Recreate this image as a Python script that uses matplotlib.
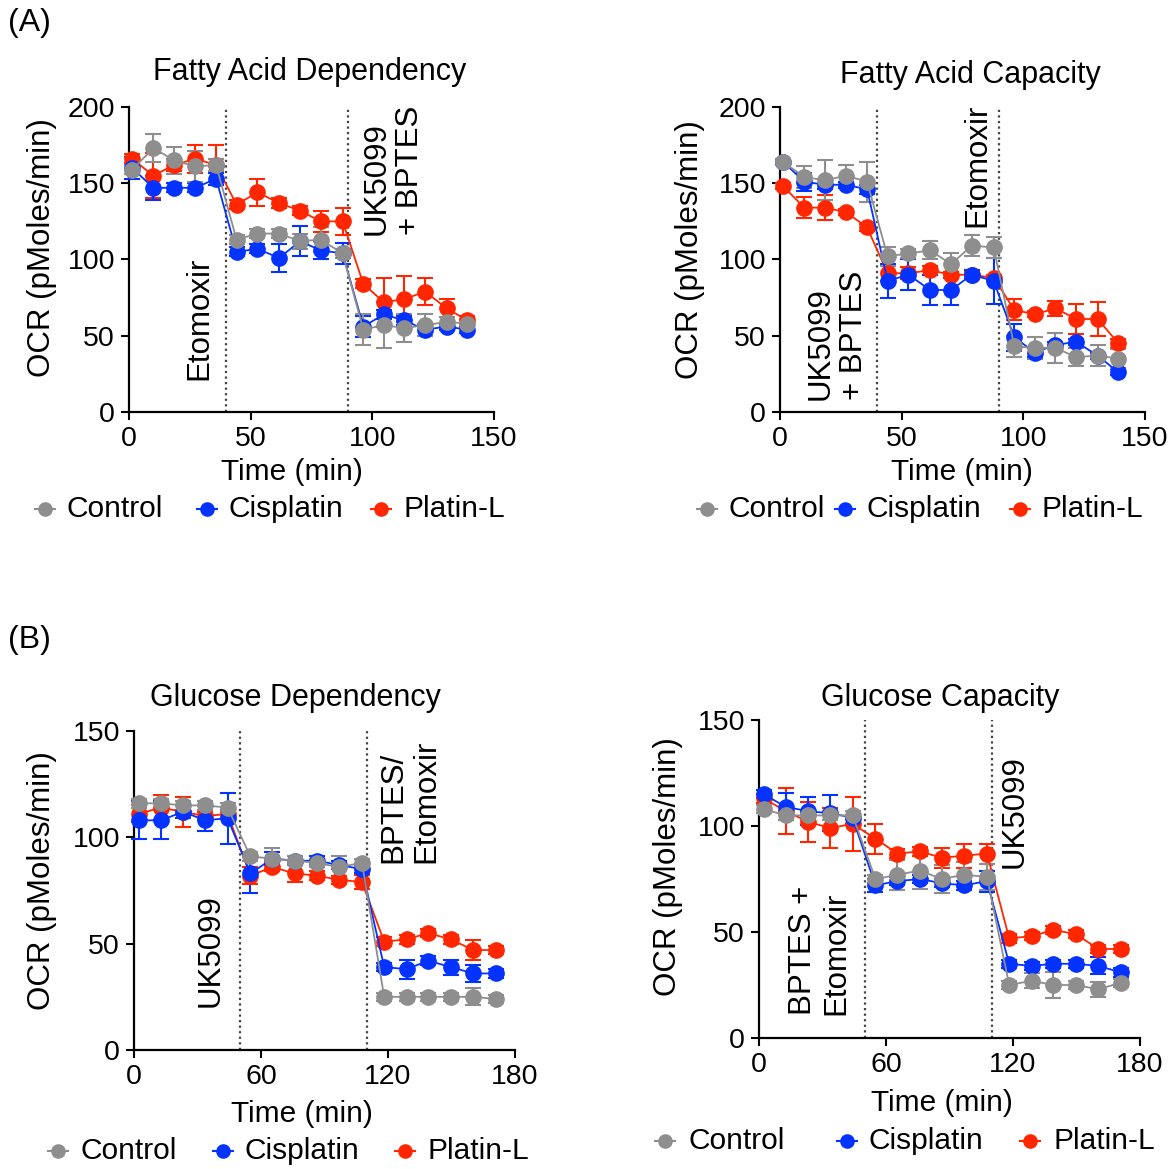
import matplotlib
matplotlib.use("Agg")
import matplotlib.pyplot as plt
from matplotlib.lines import Line2D

plt.rcParams['font.family'] = ['Liberation Sans', 'DejaVu Sans']

W, H = 1176, 1169

# ---------------- data ----------------
time_fa = [1.3, 10, 18.6, 27.2, 35.8, 44.2, 52.8, 61.7, 70.3, 78.8, 87.8,
           96.3, 104.7, 113.2, 121.7, 130.5, 139.1]
time_glc = [2.2, 12.7, 23.2, 33.6, 44.2, 55, 65.4, 76, 86.4, 96.9, 107.7,
            118.2, 128.8, 139, 149.7, 160.3, 170.8]

series_names = ["Control", "Cisplatin", "Platin-L"]

# (A) Fatty Acid Dependency
fad_control = [159, 173, 165, 161, 162, 113, 117, 117, 112, 113, 104, 54, 57, 55, 57, 59, 58]
fad_control_err = [3, 9, 9, 10, 4, 3, 3, 3, 5, 8, 3, 10, 15, 9, 7, 3, 3]
fad_cis = [160, 147, 147, 147, 153, 105, 107, 101, 112, 106, 104, 56, 64, 60, 54, 56, 54]
fad_cis_err = [7, 8, 3, 3, 4, 3, 3, 9, 10, 6, 7, 7, 3, 3, 4, 2, 2]
fad_plat = [166, 155, 162, 166, 162, 136, 144, 137, 132, 125, 125, 84, 72, 74, 79, 68, 60]
fad_plat_err = [3, 15, 4, 9, 13, 3, 9, 3, 3, 7, 9, 3, 16, 15, 9, 6, 3]

# (A) Fatty Acid Capacity
fac_control = [164, 154, 152, 155, 151, 102, 104, 106, 97, 109, 108, 43, 42, 42, 36, 37, 35]
fac_control_err = [2, 7, 13, 7, 13, 6, 3, 6, 7, 7, 7, 7, 7, 10, 6, 7, 6]
fac_cis = [164, 151, 149, 149, 146, 86, 90, 80, 80, 90, 86, 49, 39, 44, 46, 37, 26]
fac_cis_err = [2, 6, 3, 2, 3, 11, 10, 10, 10, 3, 15, 9, 3, 2, 2, 2, 2]
fac_plat = [148, 134, 134, 131, 121, 91, 91, 93, 90, 90, 88, 67, 64, 68, 61, 61, 45]
fac_plat_err = [2, 7, 8, 2, 2, 5, 4, 3, 2, 2, 2, 7, 2, 5, 10, 11, 3]

# (B) Glucose Dependency
gd_control = [116, 116, 115, 115, 114, 91, 90, 89, 88, 86, 88, 25, 25, 25, 25, 25, 24]
gd_control_err = [2, 2, 2, 2, 2, 2, 5, 2, 2, 5, 2, 2, 2, 2, 2, 4, 2]
gd_cis = [108, 108, 112, 108, 109, 83, 90, 89, 89, 87, 85, 39, 38, 42, 39, 36, 36]
gd_cis_err = [9, 9, 3, 5, 12, 9, 3, 2, 2, 2, 2, 2, 4.5, 2, 3.5, 4, 2]
gd_plat = [111, 114, 112, 110, 111, 82, 86, 83, 82, 80, 79, 51, 52, 55, 52, 47, 47]
gd_plat_err = [4, 6, 7, 2, 2, 4, 2, 4, 2, 2, 3.5, 2, 2, 2, 2, 4.5, 2]

# (B) Glucose Capacity
gc_control = [108, 105, 105, 105, 105, 75, 77, 79, 75, 77, 76, 25, 27, 25, 25, 23, 26]
gc_control_err = [2, 2, 2, 2, 2, 2, 7, 8.6, 6.7, 6, 6.3, 2, 3.5, 6.3, 2, 3.5, 2]
gc_cis = [115, 109, 107, 106, 104, 72, 74, 75, 73, 72, 74, 35, 34, 35, 35, 34, 31]
gc_cis_err = [2, 6.4, 6.5, 8.5, 3, 3, 2, 2, 2, 2, 5, 2, 2, 2, 2, 4, 2]
gc_plat = [113, 107, 102, 99, 101, 94, 87, 88, 85, 86, 87, 47, 48, 51, 49, 42, 42]
gc_plat_err = [2, 11, 9.4, 9.4, 12.6, 7, 2, 2, 4.6, 5.7, 4.7, 2, 2, 2, 2, 2, 2]

fa_injections = [40, 90]
glc_injections = [50, 110]

fa_xticks = [0, 50, 100, 150]
fa_yticks = [0, 50, 100, 150, 200]
glc_xticks = [0, 60, 120, 180]
glc_yticks = [0, 50, 100, 150]

C_GRAY = "#8e8e8e"
C_BLUE = "#0433ff"
C_RED = "#ff2600"

FS_TICK = 20.5
FS_LAB = 21.5
FS_TITLE = 22
FS_ROT = 22.5
FS_PANEL = 23

fig = plt.figure(figsize=(W / 100, H / 100), dpi=100)


def px_axes(x0, x1, y_top, y_bot):
    return fig.add_axes([x0 / W, 1 - y_bot / H, (x1 - x0) / W, (y_bot - y_top) / H])


def ftext(x, y, s, **kw):
    fig.text(x / W, 1 - y / H, s, **kw)


def panel(ax, t, data, inj, xlim, ylim, xticks, yticks, annots):
    for (vals, errs, col) in data:
        ax.errorbar(t, vals, yerr=errs, color=col, marker='o', markersize=11,
                    linewidth=1.3, elinewidth=1.5, capsize=6, capthick=1.5,
                    clip_on=False, zorder=3)
    for xi in inj:
        ax.axvline(xi, color="#444444", linestyle=(0, (1, 1.5)), linewidth=1.6, zorder=1)
    ax.set_xlim(*xlim)
    ax.set_ylim(*ylim)
    ax.set_xticks(xticks)
    ax.set_yticks(yticks)
    ax.tick_params(labelsize=FS_TICK, length=6, width=1.5, pad=4, direction='out')
    for s in ['top', 'right']:
        ax.spines[s].set_visible(False)
    for s in ['left', 'bottom']:
        ax.spines[s].set_linewidth(1.6)
    for (x, y, s) in annots:
        ax.text(x, y, s, rotation=90, ha='center', va='bottom', fontsize=FS_ROT,
                multialignment='left', linespacing=1.15)


def legend(y, xs):
    cols = [C_GRAY, C_BLUE, C_RED]
    for (mx, tx), col, name in zip(xs, cols, series_names):
        fig.add_artist(Line2D([(mx - 10) / W, (mx + 10) / W], [1 - y / H, 1 - y / H],
                              color=col, linewidth=1.5, transform=fig.transFigure))
        fig.add_artist(Line2D([mx / W], [1 - y / H], color=col, marker='o', markersize=9.5,
                              transform=fig.transFigure))
        ftext(tx, y, name, fontsize=FS_LAB, ha='left', va='center')


# ---- A left
ax1 = px_axes(129, 494, 107, 412)
panel(ax1, time_fa,
      [(fad_plat, fad_plat_err, C_RED), (fad_cis, fad_cis_err, C_BLUE),
       (fad_control, fad_control_err, C_GRAY)],
      fa_injections, (0, 150), (0, 200), fa_xticks, fa_yticks,
      [(29, 21, "Etomoxir"), (108.5, 116, "UK5099\n+ BPTES")])

# ---- A right
ax2 = px_axes(780, 1145, 107, 412)
panel(ax2, time_fa,
      [(fac_plat, fac_plat_err, C_RED), (fac_cis, fac_cis_err, C_BLUE),
       (fac_control, fac_control_err, C_GRAY)],
      fa_injections, (0, 150), (0, 200), fa_xticks, fa_yticks,
      [(23.4, 7.7, "UK5099\n+ BPTES"), (81, 121.5, "Etomoxir")])

# ---- B left
ax3 = px_axes(134, 515, 731, 1050)
panel(ax3, time_glc,
      [(gd_plat, gd_plat_err, C_RED), (gd_cis, gd_cis_err, C_BLUE),
       (gd_control, gd_control_err, C_GRAY)],
      glc_injections, (0, 180), (0, 150), glc_xticks, glc_yticks,
      [(36.3, 20.4, "UK5099"), (130.4, 87.8, "BPTES/\nEtomoxir")])

# ---- B right
ax4 = px_axes(759, 1140, 720, 1038)
panel(ax4, time_glc,
      [(gc_plat, gc_plat_err, C_RED), (gc_cis, gc_cis_err, C_BLUE),
       (gc_control, gc_control_err, C_GRAY)],
      glc_injections, (0, 180), (0, 150), glc_xticks, glc_yticks,
      [(28.8, 11, "BPTES +\nEtomoxir"), (121, 80, "UK5099")])

# titles
ftext(310, 72, "Fatty Acid Dependency", fontsize=FS_TITLE, ha='center', va='center')
ftext(970, 75, "Fatty Acid Capacity", fontsize=FS_TITLE, ha='center', va='center')
ftext(295, 698, "Glucose Dependency", fontsize=FS_TITLE, ha='center', va='center')
ftext(940, 698, "Glucose Capacity", fontsize=FS_TITLE, ha='center', va='center')

# y labels
for (x, y) in [(42, 248), (690, 250), (42, 881), (668, 867)]:
    ftext(x, y, "OCR (pMoles/min)", fontsize=FS_ROT, rotation=90, ha='center', va='center')

# x labels
for (x, y) in [(292, 472), (962, 472), (302, 1114), (942, 1103)]:
    ftext(x, y, "Time (min)", fontsize=FS_LAB, ha='center', va='center')

# panel labels
ftext(8, 23, "(A)", fontsize=FS_PANEL, ha='left', va='center')
ftext(8, 640, "(B)", fontsize=FS_PANEL, ha='left', va='center')

# legends
legend(509, [(45, 67), (207, 229), (381, 403)])
legend(509, [(707, 728), (845, 867), (1020, 1042)])
legend(1151, [(58, 80), (223, 245), (405, 427)])
legend(1141, [(665, 688), (847, 869), (1030, 1053)])

fig.savefig("out.png", dpi=100)
